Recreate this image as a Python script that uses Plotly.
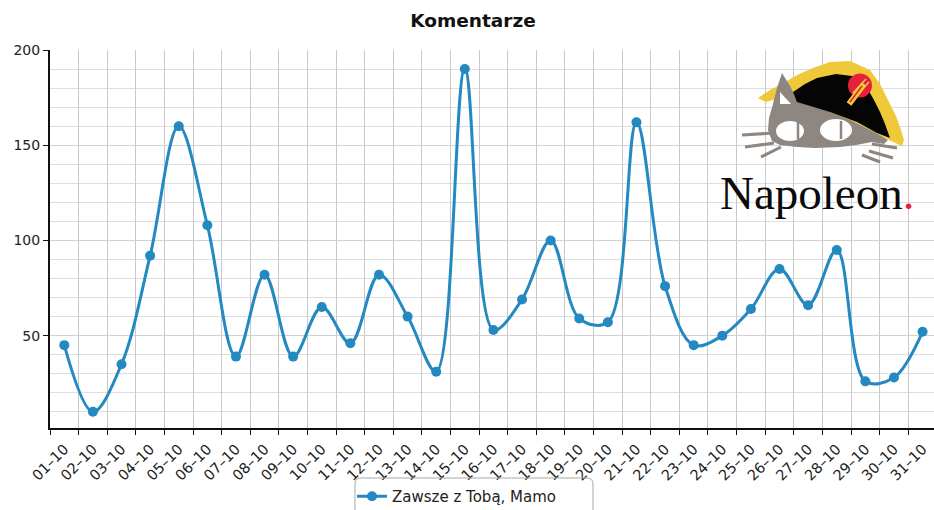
import plotly.graph_objects as go

# Daily comment counts for October
days = ["01–10", "02–10", "03–10", "04–10", "05–10", "06–10", "07–10", "08–10",
        "09–10", "10–10", "11–10", "12–10", "13–10", "14–10", "15–10", "16–10",
        "17–10", "18–10", "19–10", "20–10", "21–10", "22–10", "23–10", "24–10",
        "25–10", "26–10", "27–10", "28–10", "29–10", "30–10", "31–10"]
comments = [45, 10, 35, 92, 160, 108, 39, 82, 39, 65, 46, 82, 60, 31, 190, 53,
            69, 100, 59, 57, 162, 76, 45, 50, 64, 85, 66, 95, 26, 28, 52]
series_name = "Zawsze z Tobą, Mamo"
chart_title = "Komentarze"

W, H = 934, 510
ML, MR, MT, MB = 50, 0, 50, 82
PW, PH = W - ML - MR, H - MT - MB
LINE = "#2389c0"


def P(x, y):
    """Pixel position -> paper coordinates."""
    return (x - ML) / PW, (H - MB - y) / PH


def path(points, close=True):
    parts = []
    for i, (x, y) in enumerate(points):
        px, py = P(x, y)
        parts.append(("M" if i == 0 else "L") + f"{px:.5f},{py:.5f}")
    return " ".join(parts) + (" Z" if close else "")


def poly(points, color):
    return dict(type="path", xref="paper", yref="paper", path=path(points),
                fillcolor=color, line=dict(width=0), layer="above")


def seg(p0, p1, color, width):
    return dict(type="path", xref="paper", yref="paper", path=path([p0, p1], close=False),
                line=dict(color=color, width=width), layer="above")


def ellipse(cx, cy, rx, ry, color):
    x0, y0 = P(cx - rx, cy + ry)
    x1, y1 = P(cx + rx, cy - ry)
    return dict(type="circle", xref="paper", yref="paper", x0=x0, y0=y0, x1=x1, y1=y1,
                fillcolor=color, line=dict(width=0), layer="above")


fig = go.Figure()
fig.add_trace(go.Scatter(
    x=days, y=comments, name=series_name, mode="lines+markers",
    line=dict(color=LINE, width=3, shape="spline", smoothing=1),
    marker=dict(color=LINE, size=10),
))

# --- logo: cat in a bicorne hat ---
YEL, BLK, GRY, RED = "#f0c93a", "#050505", "#8e8681", "#e5213c"
shapes = []
shapes.append(poly([(758, 98), (770, 90), (782, 84), (797, 75), (813, 68), (830, 62),
                    (850, 61), (870, 70), (880, 84), (888, 100), (896, 116), (901, 130),
                    (904, 140), (902, 146), (887, 139), (860, 126), (830, 114),
                    (800, 102), (783, 97), (766, 102)], YEL))
shapes.append(poly([(782, 73), (790, 86), (797, 100), (820, 108), (850, 120), (876, 133),
                    (888, 140), (884, 144), (872, 142), (856, 145), (840, 147),
                    (815, 148), (797, 147), (780, 145), (772, 141), (768, 130),
                    (769, 118), (773, 104), (777, 88)], GRY))
shapes.append(poly([(780, 92), (780, 104), (791, 104)], "#ffffff"))
shapes.append(poly([(793, 92), (805, 84), (817, 78), (836, 74), (852, 76), (866, 86),
                    (874, 100), (880, 112), (885, 124), (890, 138), (877, 133),
                    (857, 122), (830, 112), (807, 105), (797, 102)], BLK))
shapes.append(ellipse(860, 85.5, 12, 12, RED))
shapes.append(seg((853, 93), (866, 79), YEL, 1.6))
shapes.append(seg((857, 95), (869, 82), YEL, 1.6))
shapes.append(seg((849, 104), (864, 84), YEL, 6))
shapes.append(seg((850, 102), (862, 86), RED, 1.5))
shapes.append(ellipse(790, 131, 14, 10, "#ffffff"))
shapes.append(ellipse(836, 130, 16, 11, "#ffffff"))
shapes.append(seg((798, 122), (798, 139), GRY, 2.5))
shapes.append(seg((841, 121), (841, 139), GRY, 2.5))
for p0, p1 in [((742, 135), (774, 133)), ((745, 147), (774, 143)), ((761, 157), (781, 147)),
               ((872, 144), (897, 148)), ((869, 151), (893, 158)), ((862, 155), (880, 162))]:
    shapes.append(seg(p0, p1, GRY, 3))

# rounded legend frame
lx0, lx1, ly0, ly1, r = 355, 593, 478, 520, 6
fx0, fy0 = P(lx0, ly0)
fx1, fy1 = P(lx1, ly1)
rx, ry = r / PW, r / PH
frame = (f"M{fx0 + rx:.5f},{fy0:.5f} L{fx1 - rx:.5f},{fy0:.5f} "
         f"Q{fx1:.5f},{fy0:.5f} {fx1:.5f},{fy0 - ry:.5f} L{fx1:.5f},{fy1:.5f} "
         f"L{fx0:.5f},{fy1:.5f} L{fx0:.5f},{fy0 - ry:.5f} Q{fx0:.5f},{fy0:.5f} {fx0 + rx:.5f},{fy0:.5f}")
shapes.append(dict(type="path", xref="paper", yref="paper", path=frame,
                   line=dict(color="#a8a8a8", width=1), fillcolor="rgba(0,0,0,0)", layer="above"))

tx, ty = P(817, 193)
annotations = [dict(
    xref="paper", yref="paper", x=tx, y=ty, xanchor="center", yanchor="middle",
    text='Napoleon<span style="color:#e5213c">.</span>', showarrow=False,
    font=dict(family="Liberation Serif", size=47, color="#0a0a0a"),
)]

fig.update_layout(
    width=W, height=H,
    margin=dict(l=ML, r=MR, t=MT, b=MB, pad=0, autoexpand=False),
    paper_bgcolor="white", plot_bgcolor="white",
    font=dict(family="DejaVu Sans", size=13.5, color="#222222"),
    title=dict(text=chart_title, x=473 / W, xanchor="center", y=1 - 21 / H, yanchor="middle",
               font=dict(family="DejaVu Sans", size=18.5, color="#111111", weight="bold")),
    showlegend=True,
    legend=dict(x=(352 - ML) / PW, xanchor="left", y=P(0, 480)[1], yanchor="top",
                bgcolor="rgba(0,0,0,0)", borderwidth=0,
                font=dict(family="DejaVu Sans", size=15, color="#222222")),
    xaxis=dict(type="category", range=[-0.5, 30.4], tickson="boundaries",
               ticks="outside", ticklen=5, tickcolor="#111111", tickwidth=1,
               tickangle=-45, ticklabelstandoff=5, showgrid=True, gridcolor="#c8c8c8",
               gridwidth=1, showline=True, linecolor="#111111", linewidth=2, zeroline=False,
               automargin=False, tickfont=dict(size=14.5, color="#222222")),
    yaxis=dict(range=[1.5, 200], tick0=0, dtick=50, ticks="outside", ticklen=5,
               tickcolor="#111111", showgrid=True, gridcolor="#d2d2d2",
               minor=dict(dtick=10, tick0=0, showgrid=True, gridcolor="#dedede", ticks=""),
               showline=True, linecolor="#111111", linewidth=2, zeroline=False,
               automargin=False, tickfont=dict(size=14, color="#222222")),
    shapes=shapes,
    annotations=annotations,
)

fig.write_html("out.html")
